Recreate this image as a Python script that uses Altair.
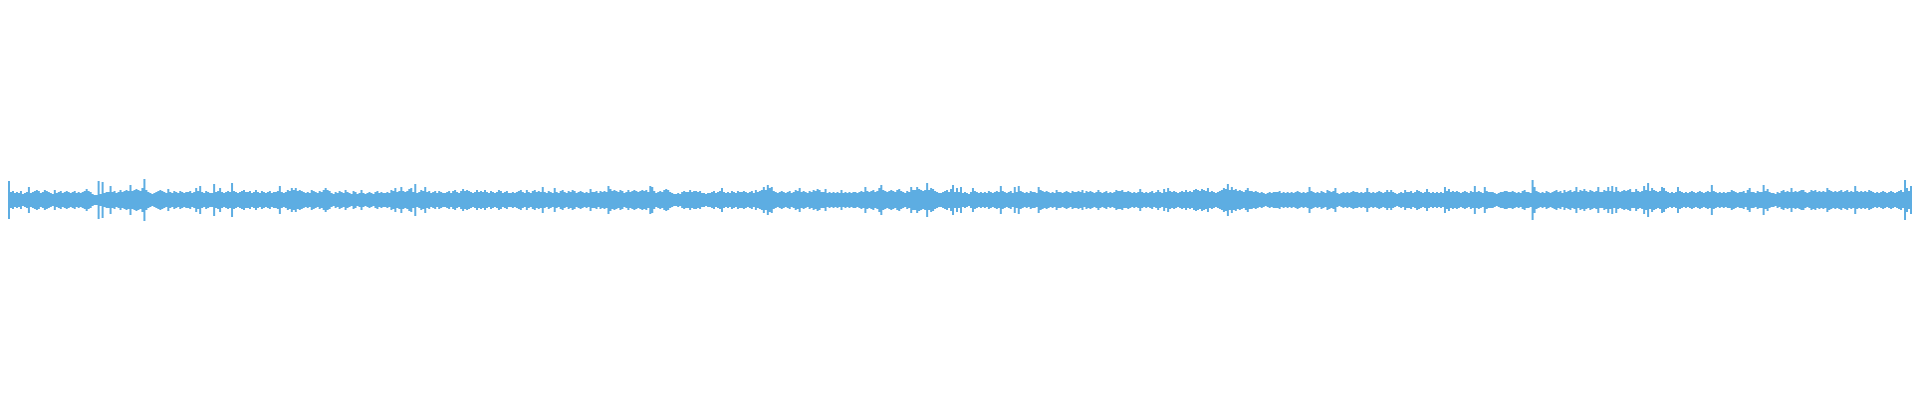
import altair as alt
import pandas as pd

# Peak amplitude of each 2-pixel bucket of the waveform (half-height, in sample units)
peaks_a = [
19,8,9,7,8,7,9,6,7,8, 13,7,8,9,10,9,7,8,10,9, 8,7,6,10,7,8,9,7,8,9, 8,7,8,9,7,8,7,8,9,11,
9,8,6,5,5,19,6,18,7,8, 8,14,8,9,7,8,10,8,9,10, 9,15,9,10,11,10,9,12,21,10, 8,7,6,7,8,9,10,9,8,7,
11,8,7,9,8,7,9,8,7,8, 8,9,7,8,12,9,14,8,7,9, 8,7,7,16,8,9,12,8,7,8, 9,8,17,9,8,7,8,9,10,8,
8,9,7,8,10,8,7,9,8,7, 8,9,7,8,8,9,14,8,7,8, 10,9,12,10,12,9,10,9,8,7, 8,7,10,9,8,7,9,8,10,12,
]
peaks_b = [
10,9,7,6,8,7,9,8,7, 10,8,7,6,9,8,6,7,10,7, 6,7,8,7,6,8,9,7,8,7, 7,8,7,10,9,12,8,9,13,9,
8,9,11,12,8,16,7,8,10,9, 13,8,9,7,8,9,7,9,8,7, 7,8,9,7,9,10,8,7,9,11, 9,10,9,8,7,8,10,8,9,8,
10,8,7,9,8,7,8,10,9,7, 8,9,7,7,8,7,8,9,10,8, 7,10,8,7,9,10,8,9,8,13, 8,7,9,8,7,12,8,7,9,10,
8,7,9,8,10,9,7,8,9,8, 7,8,7,11,8,8,9,7,9,8, 9,8,14,11,9,10,9,8,10,9, 7,8,10,8,9,10,9,8,9,10,
]
peaks_c = [
9,10,8,14,13,9,7,8,9,8, 10,11,10,8,7,6,6,7,6,8, 9,8,8,10,8,9,9,8,9,7, 7,6,7,7,8,9,7,8,9,12,
8,7,8,7,9,8,7,9,8, 8,9,8,7,8,9,7,10,8,9, 10,13,10,15,12,13,9,8,7,8, 9,8,7,8,9,7,8,10,9,12,
8,9,8,7,9,8,10,9,11,10, 8,8,11,7,8,7,8,7,8,7, 10,7,8,7,8,7,8,8,7,8, 9,8,13,9,8,9,10,8,9,12,
15,10,9,8,9,10,9,8,10,11, 9,8,7,9,8,13,10,10,13,11, 10,9,10,17,10,12,11,9,8,7, 7,8,9,10,8,11,15,8,12,8,
]
peaks_d = [
13,7,8,7,6,8,12,9,8,7, 8,7,8,7,9,8,7,8,9,8, 14,9,8,7,8,9,7,13,8,14, 9,8,7,8,7,9,8,8,7,13,
10,9,8,9,8,7,8,7,10,8, 8,7,8,9,8,7,9,8,8,9, 8,10,7,9,8,9,8,7,8,10, 8,7,8,9,7,8,7,8,10,9,
9,10,8,8,9,8,7,8,7, 8,11,8,7,8,7,8,9,7,8, 10,8,7,11,8,12,9,8,9,8, 7,8,9,8,10,8,9,8,10,11,
10,9,11,10,9,12,8,9,8,7, 8,9,10,12,11,16,10,13,10,11, 9,10,9,8,10,12,9,9,8,9, 8,7,8,7,6,7,8,7,8,8,
]
peaks_e = [
8,9,7,8,7,8,7,8,7,8, 9,8,7,8,7,8,13,9,8,7, 8,7,9,8,7,10,9,8,9,12, 7,6,7,8,7,8,7,8,9,8,
8,7,8,7,8,12,8,7,8, 7,8,9,8,7,8,10,8,10,8, 7,6,7,8,7,10,8,8,9,7, 8,10,9,8,7,8,11,8,7,8,
7,8,7,8,7,13,9,11,8,9, 8,9,8,7,8,9,8,7,9,8, 14,8,9,8,7,13,9,8,8,8, 7,6,7,8,8,9,9,8,8,9,
8,7,8,7,9,10,8,8,7,20, 13,9,8,7,8,7,9,8,7,8, 9,10,8,9,7,10,8,9,10,8, 9,13,8,10,9,11,9,8,10,9,
]
peaks_f = [
8,9,13,8,8,10,9,13,9,14, 8,13,9,8,9,10,9,10,11,8, 8,11,9,8,9,14,10,17,9,12, 10,9,8,9,13,12,9,8,7,8,
7,8,13,9,8,7,8,7,8,9, 8,7,8,9,8,7,8,9,8,15, 9,8,7,8,7,8,7,8,8,10, 9,8,7,8,8,9,7,10,12,8,
8,7,9,8,8,15,9,11,8,7, 7,6,8,7,9,10,8,9,8,12, 8,9,8,9,10,10,8,7,8,10, 9,10,8,9,8,9,8,12,10,9,
8,9,8,9,10,8,9,10,8,9, 8,14,9,8,9,8,9,8,10,9, 8,7,8,7,8,9,8,7,8,9, 8,7,8,9,10,8,20,12,9,14,
]

peaks = peaks_a + peaks_b + peaks_c + peaks_d + peaks_e + peaks_f
n = len(peaks)
# step-after area needs a closing point at the right edge
df = pd.DataFrame({"i": list(range(n + 1)), "peak": peaks + [peaks[-1]]})

chart = (
    alt.Chart(df)
    .transform_calculate(low="-datum.peak")
    .mark_area(interpolate="step-after", color="#5dade2", opacity=1)
    .encode(
        x=alt.X("i:Q", scale=alt.Scale(domain=[0, n], nice=False, zero=False), axis=None),
        y=alt.Y("peak:Q", scale=alt.Scale(domain=[-192, 192], nice=False), axis=None),
        y2="low:Q",
    )
    .properties(width=2 * n, height=384, padding=0, background="white")
    .configure_view(stroke=None)
)

chart.save("out.html", embed_options={"renderer": "svg", "actions": False})
